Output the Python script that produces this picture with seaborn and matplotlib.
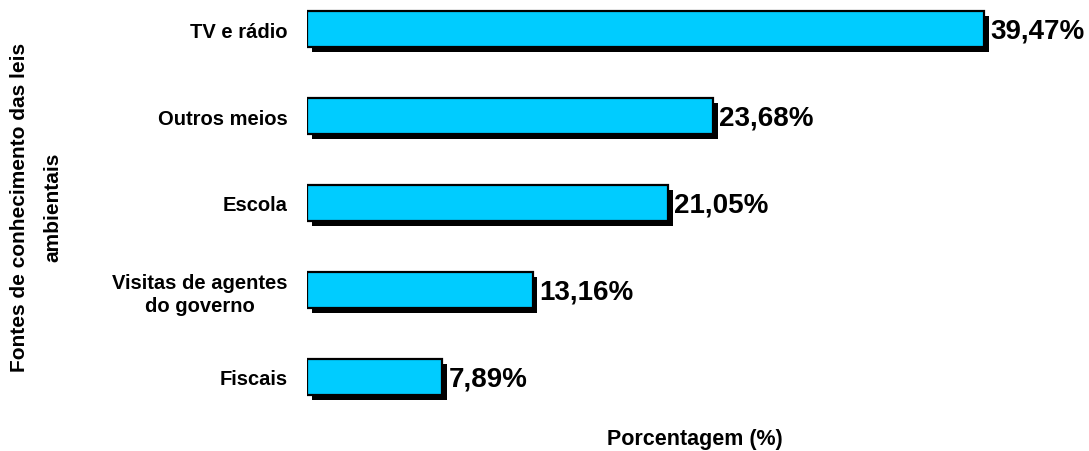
import matplotlib
matplotlib.use("Agg")
import matplotlib.pyplot as plt
import matplotlib.patheffects as pe
import seaborn as sns
import pandas as pd

categories = ["TV e rádio", "Outros meios", "Escola", "Visitas de agentes\ndo governo", "Fiscais"]
values = [39.47, 23.68, 21.05, 13.16, 7.89]
value_labels = ["39,47%", "23,68%", "21,05%", "13,16%", "7,89%"]

sns.set_theme(style="white")
plt.rcParams['font.family'] = ['Liberation Sans', 'DejaVu Sans']

df = pd.DataFrame({"cat": categories, "val": values})

W, H = 1089, 452
fig = plt.figure(figsize=(W / 100, H / 100), dpi=100)
ax_left = 307 / W
ax_width = 772 / W
ax_bottom = (H - 420) / H
ax_height = 420 / H
ax = fig.add_axes([ax_left, ax_bottom, ax_width, ax_height])

sns.barplot(data=df, y="cat", x="val", orient="h", color="#00CCFF",
            saturation=1, width=0.414, edgecolor="black", linewidth=1.6, ax=ax)

for p in ax.patches:
    p.set_path_effects([pe.SimplePatchShadow(offset=(3.4, -3.4), shadow_rgbFace="black", alpha=1.0),
                        pe.Normal()])

ax.set_xlim(0, 45)
ax.set_ylim(4.483, -0.345)

for i, (v, lab) in enumerate(zip(values, value_labels)):
    ax.annotate(lab, xy=(v, i), xytext=(4.5, -1), textcoords="offset points",
                ha="left", va="center", fontsize=20, fontweight="bold", color="black")

for s in ax.spines.values():
    s.set_visible(False)
ax.set_xticks([])
ax.tick_params(axis="y", length=0, pad=14)
ax.set_yticks(range(len(categories)))
ax.set_yticklabels(categories, fontsize=14.5, fontweight="bold", color="black",
                   multialignment="center", linespacing=1.25)
ax.set_ylabel("")
ax.set_xlabel("")

fig.text(695 / W, 1 - 440 / H, "Porcentagem (%)", ha="center", va="center",
         fontsize=15.5, fontweight="bold", color="black")
fig.text(36 / W, 1 - 207 / H, "Fontes de conhecimento das leis\nambientais", rotation=90,
         ha="center", va="center", multialignment="center", linespacing=1.95,
         fontsize=15, fontweight="bold", color="black")

fig.savefig("out.png", dpi=100, facecolor="white")
